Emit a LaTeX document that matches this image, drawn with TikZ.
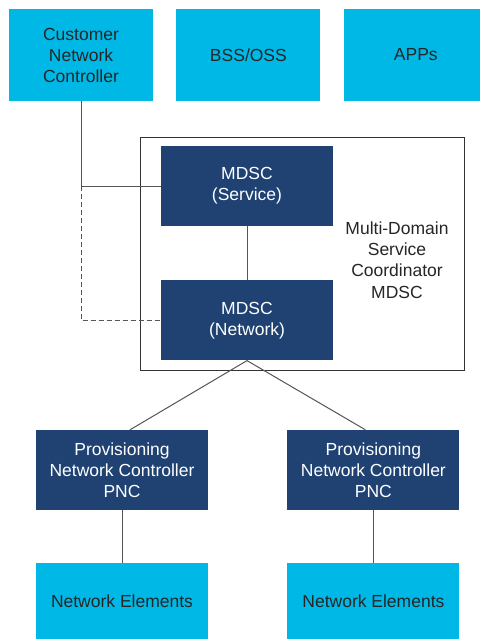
\documentclass[tikz,border=0pt]{standalone}
\usepackage{fontspec}
\setmainfont{Liberation Sans}
\usepackage{xcolor}
\usetikzlibrary{positioning}

\definecolor{ciscocyan}{HTML}{00B8E6}
\definecolor{ciscoblue}{HTML}{1F4273}
\definecolor{linegray}{HTML}{555555}

\tikzset{
    cyanbox/.style={fill=ciscocyan,text=black!85,inner sep=0pt,
                    minimum width=144pt,minimum height=92pt,align=center,
                    font=\fontsize{17.5}{21}\selectfont},
    bluebox/.style={fill=ciscoblue,text=white,inner sep=0pt,
                    minimum width=172pt,minimum height=80pt,align=center,
                    font=\fontsize{17.5}{21}\selectfont},
    conn/.style={draw=linegray,line width=1pt},
}

\begin{document}
\begin{tikzpicture}
        \useasboundingbox[fill=white] (0pt,0pt) rectangle (479pt,-639pt);

        % top row
        \node[cyanbox] (cnc) at (81pt,-55pt) {Customer\\Network\\Controller};
        \node[cyanbox,right=23pt of cnc] (bss) {BSS/OSS};
        \node[cyanbox,right=23pt of bss] (apps) {APPs};

        % multi-domain service coordinator
        \node[draw=black!80,line width=0.8pt,minimum width=324pt,minimum height=233pt,
              inner sep=0pt] (mdsc) at (302pt,-253.5pt) {};
        \node[bluebox] (service) at (247pt,-186pt) {MDSC\\(Service)};
        \node[bluebox,below=54pt of service] (network) {MDSC\\(Network)};
        \node[align=center,font=\fontsize{17.5}{21.3}\selectfont,text=black!85]
              (mdsclabel) at (397pt,-260pt) {Multi-Domain\\Service\\Coordinator\\MDSC};
        \draw[conn] (service.south) -- (network.north);
        \draw[conn] (cnc.south) |- (service.west);
        \draw[conn,dash pattern=on 5pt off 3pt] (cnc.south |- service.west) |- (network.west);

        % provisioning network controllers
        \node[bluebox] (pncA) at (122pt,-470pt) {Provisioning\\Network Controller\\PNC};
        \node[bluebox,right=79pt of pncA] (pncB) {Provisioning\\Network Controller\\PNC};
        \draw[conn] (network.south) -- ([xshift=8pt]pncA.north);
        \draw[conn] (network.south) -- ([xshift=-8pt]pncB.north);

        % network elements
        \node[cyanbox,minimum width=172pt,minimum height=76pt,below=53pt of pncA] (neA) {Network Elements};
        \node[cyanbox,minimum width=172pt,minimum height=76pt,below=53pt of pncB] (neB) {Network Elements};
        \draw[conn] (pncA.south) -- (neA.north);
        \draw[conn] (pncB.south) -- (neB.north);
    \end{tikzpicture}
\end{document}
